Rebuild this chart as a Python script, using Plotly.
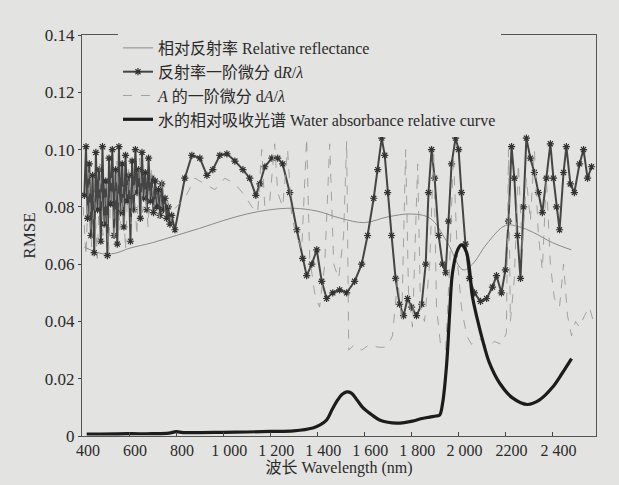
import plotly.graph_objects as go

# ---------------- data ----------------
water_x = [420, 480, 600, 700, 770, 800, 830, 900, 1000, 1100, 1200, 1300, 1381, 1410, 1440, 1465, 1487, 1505,
           1525, 1545, 1570, 1593, 1630, 1665, 1700, 1737, 1770, 1805, 1840, 1878, 1905, 1920, 1933, 1950,
           1963, 1975, 1997, 2013, 2035, 2060, 2080, 2103, 2132, 2175, 2230, 2294, 2345, 2400, 2442, 2481]
water_y = [0.0007, 0.0007, 0.0008, 0.0008, 0.0010, 0.0015, 0.0012, 0.0012, 0.0013, 0.0014, 0.0016, 0.0018,
           0.0028, 0.0038, 0.0056, 0.0095, 0.0126, 0.0145, 0.0154, 0.0150, 0.0125, 0.0100, 0.0075, 0.0056,
           0.0048, 0.0045, 0.0047, 0.0052, 0.0060, 0.0066, 0.0070, 0.0073, 0.0115, 0.025, 0.043, 0.057, 0.065,
           0.0667, 0.064, 0.0485, 0.041, 0.0335, 0.0255, 0.0185, 0.0133, 0.011, 0.0126, 0.017, 0.022, 0.027]

refl_x = [410, 450, 500, 550, 600, 700, 800, 900, 1000, 1100, 1200, 1300, 1400, 1500, 1600, 1700, 1800,
          1880, 1950, 2020, 2060, 2120, 2200, 2260, 2320, 2400, 2480]
refl_y = [0.066, 0.0645, 0.0635, 0.064, 0.0655, 0.0675, 0.070, 0.0725, 0.0752, 0.0775, 0.079, 0.0795,
          0.0785, 0.076, 0.0745, 0.0765, 0.0775, 0.076, 0.068, 0.058, 0.060, 0.067, 0.0735, 0.073, 0.071,
          0.0675, 0.065]

dR_x = [410, 417, 424, 431, 438, 445, 452, 459, 466, 473, 480, 487, 494, 501, 508, 515, 522, 529, 536, 543,
        550, 557, 564, 571, 578, 585, 592, 599, 606, 613, 620, 627, 634, 641, 648, 655, 662, 669, 676, 683,
        690, 697, 704, 711, 718, 725, 732, 739, 746, 753, 760, 767, 774, 781, 795,
        837, 867, 901, 931, 956, 986, 1016, 1050, 1084, 1113, 1139, 1156, 1177, 1207, 1232, 1253, 1283, 1313,
        1338, 1355, 1377, 1398, 1419, 1440, 1466, 1495, 1525, 1559, 1589, 1614, 1640, 1657, 1674, 1687, 1699,
        1716, 1733, 1750, 1767, 1784, 1801, 1822, 1844, 1861, 1873, 1886, 1899, 1916, 1933, 1946, 1958, 1971,
        1988, 2001, 2013, 2030, 2047, 2068, 2094, 2120, 2145, 2162, 2183, 2200, 2213, 2226, 2238, 2251, 2264,
        2277, 2289, 2306, 2323, 2340, 2357, 2374, 2391, 2404, 2417, 2430, 2447, 2459, 2476, 2493, 2515, 2532,
        2549, 2566]
dR_y = [0.084, 0.101, 0.076, 0.095, 0.070, 0.091, 0.064, 0.099, 0.079, 0.093,
        0.068, 0.101, 0.074, 0.089, 0.063, 0.097, 0.081, 0.100, 0.070, 0.093,
        0.067, 0.101, 0.078, 0.095, 0.073, 0.098, 0.082, 0.091, 0.068, 0.096,
        0.079, 0.100, 0.085, 0.093, 0.076, 0.099, 0.083, 0.092, 0.079, 0.097,
        0.082, 0.090, 0.078, 0.089, 0.080, 0.086, 0.077, 0.088, 0.079, 0.083,
        0.076, 0.080, 0.074, 0.077, 0.072,
        0.090, 0.098, 0.097, 0.091, 0.093, 0.098, 0.0985, 0.096, 0.093, 0.090, 0.084, 0.088, 0.094, 0.097,
        0.097, 0.095, 0.085, 0.072, 0.062, 0.056, 0.060, 0.065, 0.054, 0.048, 0.050, 0.051, 0.050, 0.054,
        0.060, 0.070, 0.083, 0.093, 0.104, 0.098, 0.085, 0.070, 0.055, 0.046, 0.042, 0.048, 0.045, 0.042,
        0.046, 0.060, 0.085, 0.100, 0.090, 0.070, 0.060, 0.057, 0.075, 0.095, 0.104, 0.100, 0.085, 0.067,
        0.055, 0.050, 0.047, 0.048, 0.052, 0.056, 0.050, 0.058, 0.075, 0.101, 0.090, 0.070, 0.055, 0.080,
        0.104, 0.097, 0.092, 0.085, 0.078, 0.090, 0.102, 0.090, 0.080, 0.072, 0.092, 0.101, 0.088, 0.085,
        0.095, 0.100, 0.090, 0.094]

dA_x = [405, 417, 429, 441, 453, 465, 477, 489, 501, 513, 525, 537, 549, 561, 573, 585, 597, 609, 621, 633,
        645, 657, 669, 681, 693, 705, 717, 729, 741, 753, 765, 777, 790,
        837, 880, 922, 965, 1007, 1050, 1092, 1122, 1147, 1164, 1177, 1198, 1219, 1232, 1253, 1274, 1292,
        1313, 1334, 1355, 1368, 1389, 1410, 1432, 1453, 1470, 1491, 1512, 1525, 1534, 1559, 1589, 1623,
        1657, 1687, 1708, 1720, 1742, 1759, 1776, 1788, 1805, 1827, 1839, 1856, 1878, 1895, 1907, 1924,
        1946, 1963, 1979, 1997, 2013, 2035, 2056, 2090, 2124, 2153, 2183, 2204, 2213, 2221, 2238, 2255,
        2272, 2289, 2306, 2323, 2340, 2357, 2374, 2391, 2408, 2430, 2447, 2464, 2481, 2498, 2515, 2536,
        2557, 2574]
dA_y = [0.080, 0.063, 0.092, 0.066, 0.085, 0.062, 0.095, 0.070, 0.088, 0.064, 0.090, 0.068, 0.096, 0.072,
        0.087, 0.065, 0.093, 0.074, 0.089, 0.070, 0.097, 0.078, 0.086, 0.073, 0.094, 0.080, 0.085, 0.076,
        0.090, 0.078, 0.082, 0.075, 0.079,
        0.083, 0.090, 0.088, 0.086, 0.090, 0.088, 0.084, 0.080, 0.078, 0.100, 0.080, 0.082, 0.102, 0.085,
        0.080, 0.100, 0.076, 0.070, 0.065, 0.104, 0.062, 0.050, 0.045, 0.060, 0.102, 0.060, 0.055, 0.070,
        0.103, 0.030, 0.032, 0.030, 0.032, 0.031, 0.031, 0.033, 0.035, 0.055, 0.040, 0.100, 0.050, 0.038,
        0.095, 0.045, 0.040, 0.060, 0.100, 0.045, 0.032, 0.030, 0.060, 0.098, 0.060, 0.045, 0.035, 0.032,
        0.034, 0.031, 0.033, 0.032, 0.036, 0.100, 0.040, 0.055, 0.095, 0.065, 0.090, 0.075, 0.100, 0.070,
        0.058, 0.090, 0.060, 0.048, 0.045, 0.060, 0.042, 0.035, 0.040, 0.038, 0.042, 0.045, 0.040]

x_ticks = [400, 600, 800, 1000, 1200, 1400, 1600, 1800, 2000, 2200, 2400]
x_tick_text = ["400", "600", "800", "1 000", "1 200", "1 400", "1 600", "1 800", "2 000", "2200", "2 400"]
y_ticks = [0, 0.02, 0.04, 0.06, 0.08, 0.10, 0.12, 0.14]
y_tick_text = ["0", "0.02", "0.04", "0.06", "0.08", "0.10", "0.12", "0.14"]

names = ["相对反射率 Relative reflectance",
         "反射率一阶微分 d<i>R</i>/<i>λ</i>",
         "<i>A</i> 的一阶微分 d<i>A</i>/<i>λ</i>",
         "水的相对吸收光谱 Water absorbance relative curve"]

# ---------------- figure ----------------
FONT = "Liberation Serif, Times New Roman, Noto Sans CJK SC, serif"
BG = "#e3e3e1"

fig = go.Figure()
fig.add_trace(go.Scatter(x=refl_x, y=refl_y, name=names[0], mode="lines", line_shape="spline",
                         line=dict(color="#8a8a8a", width=1)))
fig.add_trace(go.Scatter(x=dR_x, y=dR_y, name=names[1], mode="lines+markers",
                         line=dict(color="#454545", width=2),
                         marker=dict(symbol="asterisk-open", size=6, color="#333333",
                                     line=dict(width=1.2, color="#333333"))))
fig.add_trace(go.Scatter(x=dA_x, y=dA_y, name=names[2], mode="lines",
                         line=dict(color="#9a9a9a", width=0.9, dash="dash")))
fig.add_trace(go.Scatter(x=water_x, y=water_y, name=names[3], mode="lines", line_shape="spline",
                         line=dict(color="#1c1c1c", width=3.2)))

fig.update_layout(
    width=619, height=485,
    margin=dict(l=82, r=23, t=35, b=49),
    paper_bgcolor=BG, plot_bgcolor=BG,
    font=dict(family=FONT, size=16, color="#2a2a2a"),
    showlegend=True,
    legend=dict(x=0.07, y=1.01, xanchor="left", yanchor="top", bgcolor=BG,
                font=dict(family=FONT, size=16, color="#2a2a2a"), tracegroupgap=0,
                itemwidth=30),
    xaxis=dict(range=[400, 2585], tickvals=x_ticks, ticktext=x_tick_text, ticks="inside", ticklen=4,
               tickcolor="#444", showgrid=False, zeroline=False, showline=True, linecolor="#555",
               linewidth=1.2, mirror=True, tickfont=dict(size=16), ticklabelshift=6,
               title=dict(text="波长 Wavelength (nm)", standoff=2, font=dict(size=16))),
    yaxis=dict(range=[0, 0.14], tickvals=y_ticks, ticktext=y_tick_text, ticks="outside", ticklen=3,
               tickcolor="#444", showgrid=False, zeroline=False, showline=True, linecolor="#555",
               linewidth=1.2, mirror=True, tickfont=dict(size=17),
               title=dict(text="RMSE", standoff=4, font=dict(size=17))),
)

fig.write_html("out.html")
